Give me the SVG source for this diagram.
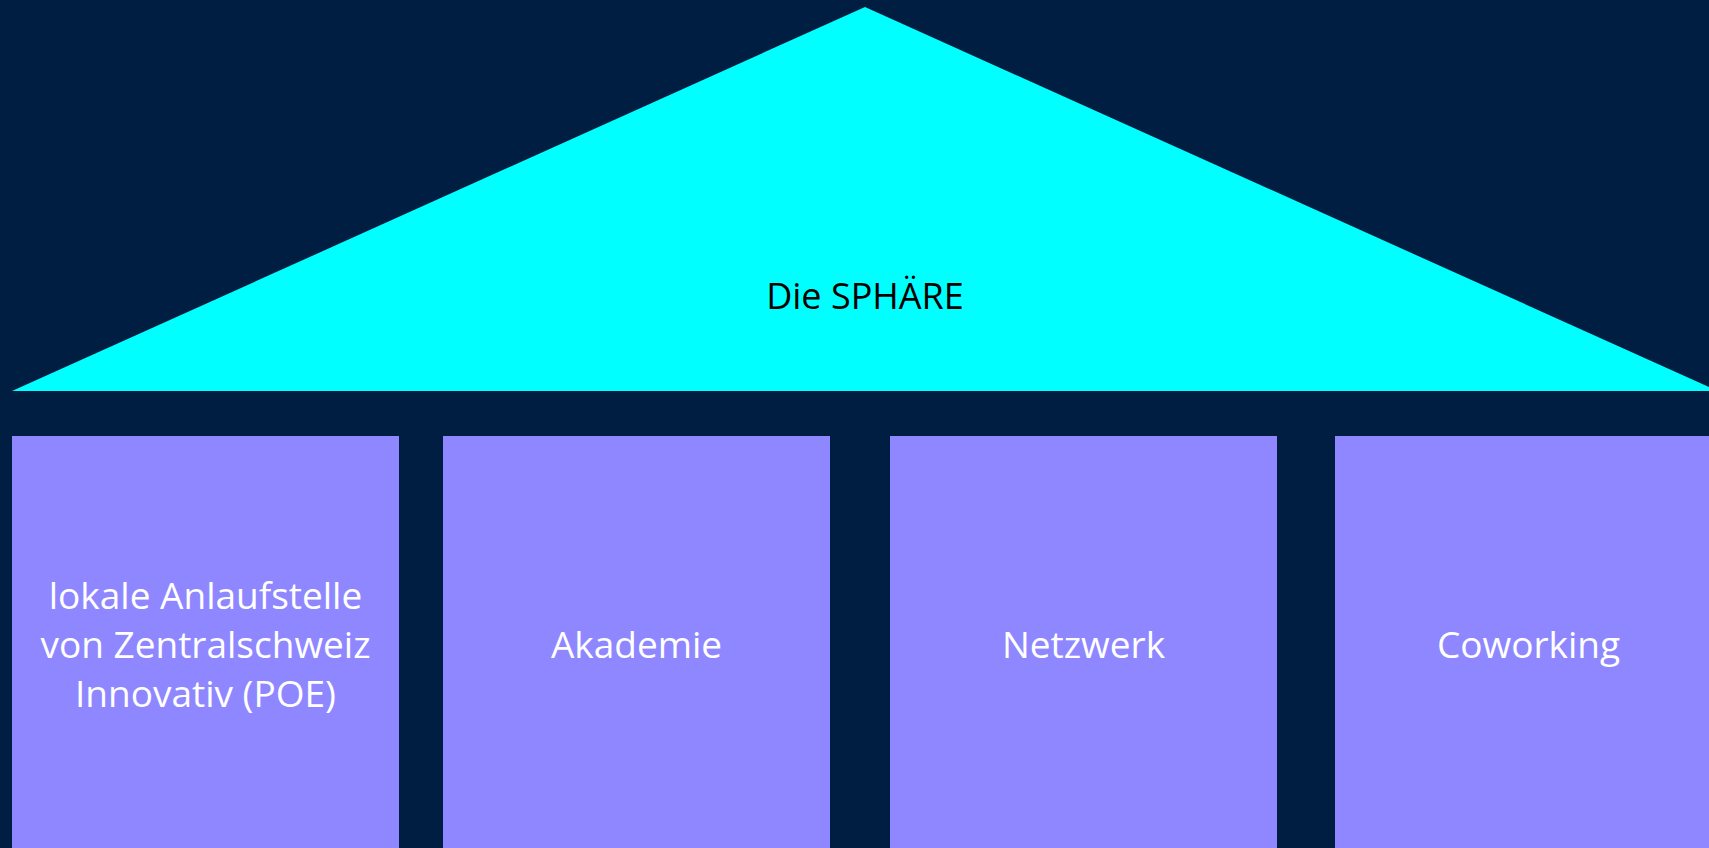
<svg xmlns="http://www.w3.org/2000/svg" width="1709" height="848" viewBox="0 0 1709 848">
<style>
.pillar{fill:#8E87FF}
.pt{font-family:"Open Sans","Liberation Sans",sans-serif;font-size:37px;fill:#FFFFFF;text-anchor:middle}
.rt{font-family:"Open Sans","Liberation Sans",sans-serif;font-size:36px;fill:#000000;text-anchor:middle}
</style>
<rect x="0" y="0" width="1709" height="848" fill="#001D42"/>
<g id="roof">
<polygon points="865,7 1718,391 12,391" fill="#00FFFF"/>
<text class="rt" x="865" y="309">Die SPHÄRE</text>
</g>
<g id="pillar1">
<rect class="pillar" x="12" y="436" width="387" height="412"/>
<text class="pt" x="205.5" y="609">lokale Anlaufstelle</text>
<text class="pt" x="205.5" y="658">von Zentralschweiz</text>
<text class="pt" x="205.5" y="707">Innovativ (POE)</text>
</g>
<g id="pillar2">
<rect class="pillar" x="443" y="436" width="387" height="412"/>
<text class="pt" x="636.5" y="658">Akademie</text>
</g>
<g id="pillar3">
<rect class="pillar" x="890" y="436" width="387" height="412"/>
<text class="pt" x="1083.5" y="658">Netzwerk</text>
</g>
<g id="pillar4">
<rect class="pillar" x="1335" y="436" width="387" height="412"/>
<text class="pt" x="1528.5" y="658">Coworking</text>
</g>
<g id="connectors"></g>
</svg>
